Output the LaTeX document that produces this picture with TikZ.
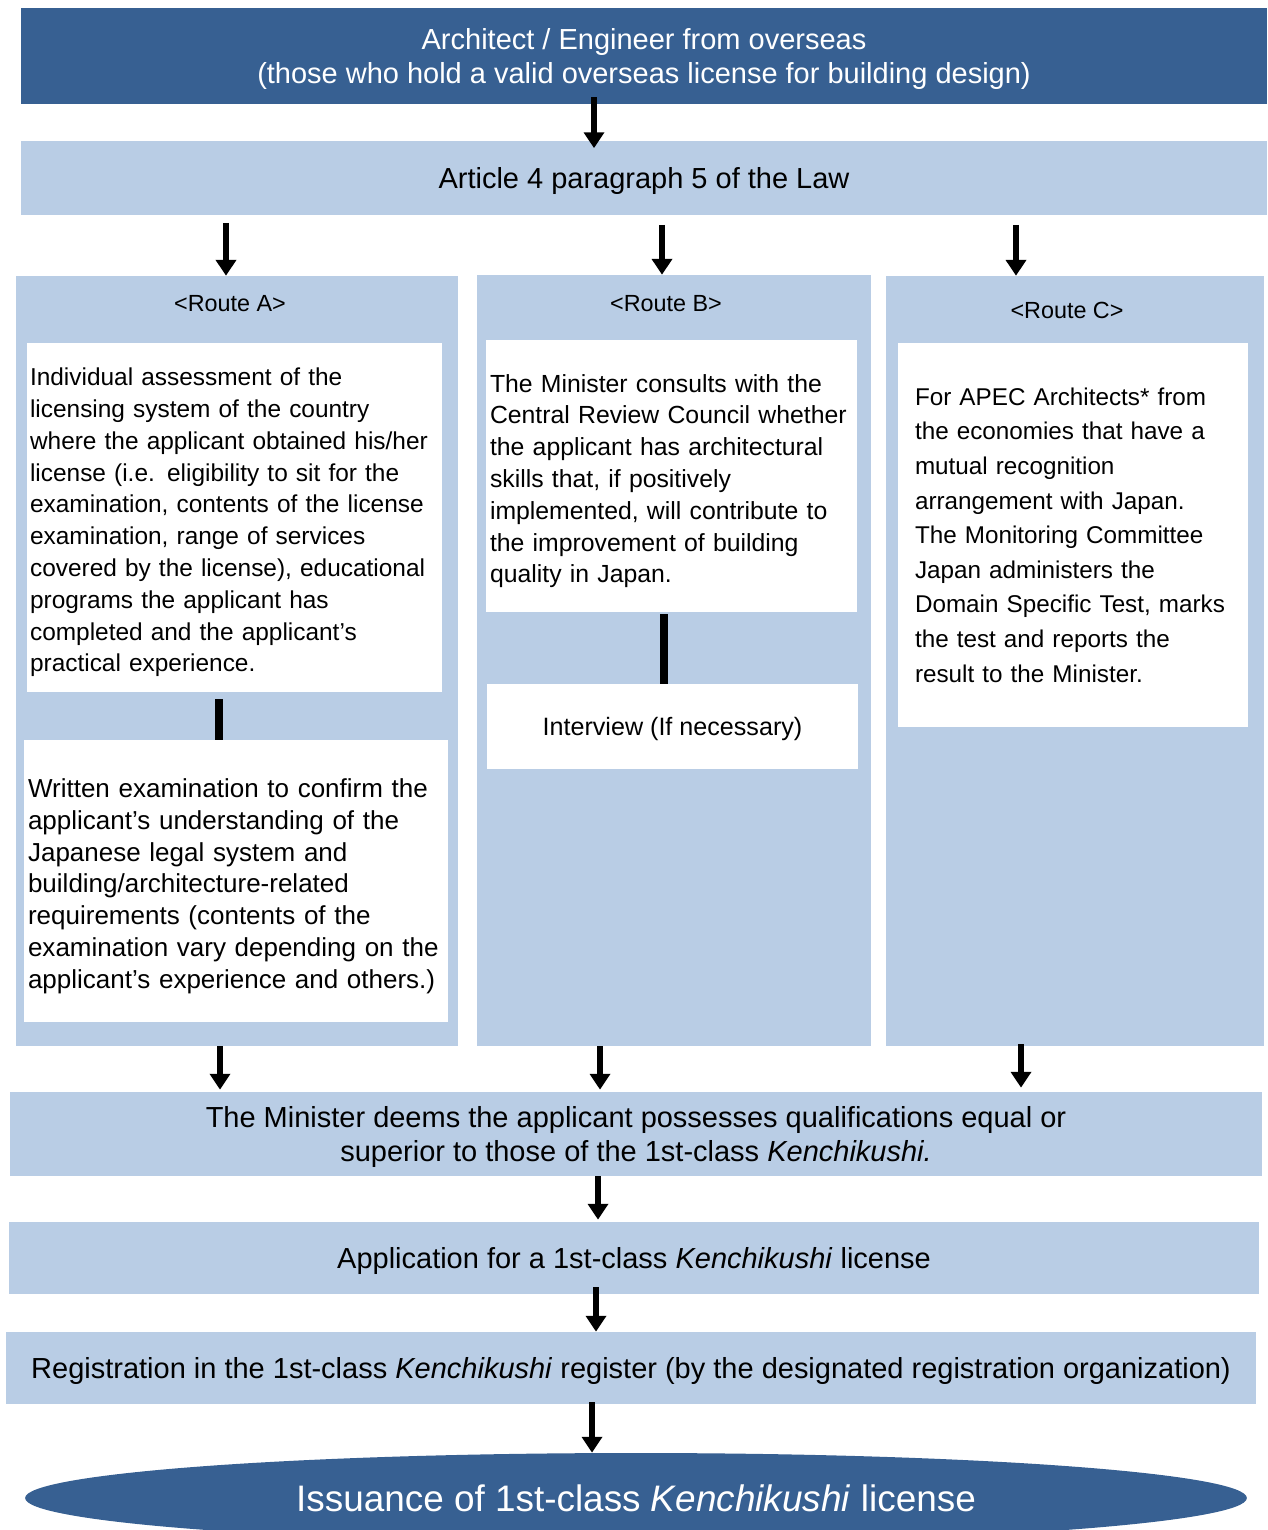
\documentclass[tikz,border=0pt]{standalone}
\usepackage{fontspec}
\setmainfont{Liberation Sans}
\usetikzlibrary{arrows.meta,shapes.geometric}
\definecolor{darkblue}{HTML}{376092}
\definecolor{lightblue}{HTML}{B9CDE5}

\begin{document}
\begin{tikzpicture}[x=0.02cm,y=-0.02cm]
    \tikzstyle{every node}+=[inner sep=0pt]
    \tikzstyle{band}=[fill=lightblue,align=center,text depth=0pt,font=\fontsize{16.5}{19.8}\selectfont]
    \tikzstyle{panel}=[fill=lightblue]
    \tikzstyle{card}=[fill=white,align=left]
    \tikzstyle{tag}=[text depth=0pt,font=\fontsize{13.3}{16}\selectfont]
    \tikzstyle{arr}=[black,line width=3.4pt,-{Triangle[width=11.3pt,length=9pt]}]
    \tikzstyle{link}=[black,line width=4pt]
    \useasboundingbox (0,0) rectangle (1267,1530);
    \node (hdr) [fill=darkblue,text=white,align=center,text depth=0pt,minimum width=24.92cm,minimum height=1.92cm,font=\fontsize{16.5}{19.3}\selectfont] at (644,56) {Architect / Engineer from overseas\\(those who hold a valid overseas license for building design)};
    \node (art) [band,minimum width=24.92cm,minimum height=1.5cm] at (644,178) {Article 4 paragraph 5 of the Law};
    \node (panA) [panel,minimum width=8.84cm,minimum height=15.4cm] at (237,661) {};
    \node (panB) [panel,minimum width=7.88cm,minimum height=15.42cm] at (674,660.5) {};
    \node (panC) [panel,minimum width=7.56cm,minimum height=15.4cm] at (1075,661) {};
    \node (labA) [tag] at (230,303) {<Route A>};
    \node (labB) [tag] at (666,303) {<Route B>};
    \node (labC) [tag] at (1067,310) {<Route C>};
    \node (A1) [card,inner xsep=0.06cm,text width=8.18cm,minimum height=6.98cm,font=\fontsize{13.9}{18.1}\selectfont] at (234.5,517.5) {\rule{0pt}{15.8pt}Individual assessment of the\\licensing system of the country\\where the applicant obtained his/her\\license (i.e. eligibility to sit for the\\examination, contents of the license\\examination, range of services\\covered by the license), educational\\programs the applicant has\\completed and the applicant’s\\practical experience.};
    \node (A2) [card,inner xsep=0.08cm,text width=8.32cm,minimum height=5.64cm,font=\fontsize{14.8}{18.1}\selectfont] at (236,881) {\rule{0pt}{16.5pt}Written examination to confirm the\\applicant’s understanding of the\\Japanese legal system and\\building/architecture-related\\requirements (contents of the\\examination vary depending on the\\applicant’s experience and others.)};
    \node (B1) [card,inner xsep=0.08cm,text width=7.26cm,minimum height=5.44cm,font=\fontsize{14.1}{18.1}\selectfont] at (671.5,476) {\rule{0pt}{16pt}The Minister consults with the\\Central Review Council whether\\the applicant has architectural\\skills that, if positively\\implemented, will contribute to\\the improvement of building\\quality in Japan.};
    \node (B2) [fill=white,text depth=0pt,minimum width=7.42cm,minimum height=1.7cm,font=\fontsize{14.3}{18.1}\selectfont] at (672.5,726.5) {Interview (If necessary)};
    \node (C1) [card,inner xsep=0.34cm,text width=6.32cm,minimum height=7.68cm,font=\fontsize{13.8}{19.7}\selectfont] at (1073,535) {For APEC Architects* from\\the economies that have a\\mutual recognition\\arrangement with Japan.\\The Monitoring Committee\\Japan administers the\\Domain Specific Test, marks\\the test and reports the\\result to the Minister.};
    \node (mini) [band,minimum width=25.04cm,minimum height=1.68cm] at (636,1134) {The Minister deems the applicant possesses qualifications equal or\\superior to those of the 1st-class \textit{Kenchikushi.}};
    \node (app) [band,minimum width=25cm,minimum height=1.44cm] at (634,1258) {Application for a 1st-class \textit{Kenchikushi} license};
    \node (reg) [band,minimum width=25cm,minimum height=1.44cm] at (631,1368) {Registration in the 1st-class \textit{Kenchikushi} register (by the designated registration organization)};
    \node (ell) [ellipse,fill=darkblue,text=white,text depth=0pt,minimum width=24.44cm,minimum height=1.8cm,font=\fontsize{21}{25}\selectfont] at (636,1498) {Issuance of 1st-class \textit{Kenchikushi} license};
    \draw [arr,shorten <=-0.14cm,shorten >=-0.16cm] (594,0 |- hdr.south) -- (594,0 |- art.north);
    \draw [arr,shorten <=0.14cm] (226,0 |- art.south) -- (226,0 |- panA.north);
    \draw [arr,shorten <=0.18cm] (662,0 |- art.south) -- (662,0 |- panB.north);
    \draw [arr,shorten <=0.18cm] (1016,0 |- art.south) -- (1016,0 |- panC.north);
    \draw [link,shorten <=0.14cm] (219,0 |- A1.south) -- (219,0 |- A2.north);
    \draw [link,shorten <=0.04cm] (664,0 |- B1.south) -- (664,0 |- B2.north);
    \draw [arr,shorten >=0.04cm] (220,0 |- panA.south) -- (220,0 |- mini.north);
    \draw [arr,shorten >=0.04cm] (600,0 |- panB.south) -- (600,0 |- mini.north);
    \draw [arr,shorten <=-0.04cm,shorten >=0.08cm] (1021,0 |- panC.south) -- (1021,0 |- mini.north);
    \draw [arr,shorten >=0.04cm] (598,0 |- mini.south) -- (598,0 |- app.north);
    \draw [arr,shorten <=-0.14cm] (596,0 |- app.south) -- (596,0 |- reg.north);
    \draw [arr,shorten <=-0.04cm] (592,0 |- reg.south) -- (592,0 |- ell.north);
\end{tikzpicture}
\end{document}
